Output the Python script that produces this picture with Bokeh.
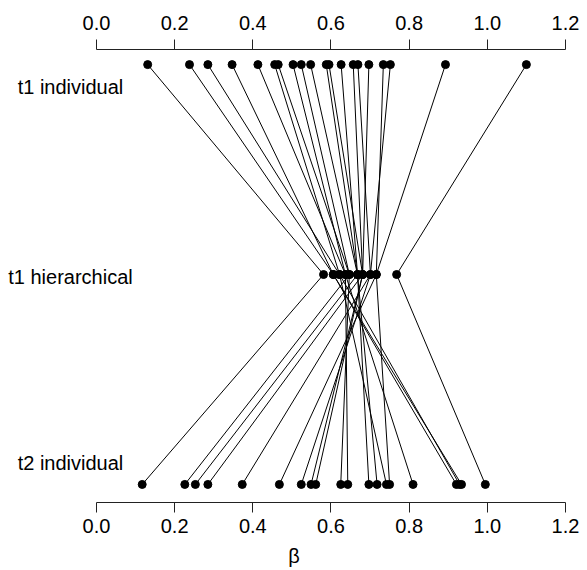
from bokeh.plotting import figure
from bokeh.models import LinearAxis, FixedTicker, Range1d, ColumnDataSource, NumeralTickFormatter
from bokeh.core.properties import value
from bokeh.embed import file_html
from bokeh.resources import INLINE

# ---- data ----
t1_individual = [0.131, 0.238, 0.285, 0.347, 0.413, 0.456, 0.465, 0.503, 0.524, 0.548,
                 0.588, 0.595, 0.626, 0.657, 0.669, 0.697, 0.734, 0.752, 0.893, 1.100]
t1_hierarchical = [0.581, 0.606, 0.622, 0.606, 0.637, 0.622, 0.647, 0.637, 0.647, 0.668,
                   0.668, 0.681, 0.668, 0.681, 0.701, 0.681, 0.716, 0.701, 0.716, 0.768]
t2_individual = [0.117, 0.921, 0.929, 0.934, 0.810, 0.742, 0.226, 0.643, 0.625, 0.253,
                 0.697, 0.285, 0.718, 0.549, 0.373, 0.561, 0.468, 0.524, 0.750, 0.995]
row_labels = ["t1 individual", "t1 hierarchical", "t2 individual"]
x_ticks = [0.0, 0.2, 0.4, 0.6, 0.8, 1.0, 1.2]

# ---- layout constants ----
ROW_T1, ROW_H, ROW_T2 = 3, 2, 1
LABEL_X = -0.0665
LABEL_Y = [2.895, 1.99, 1.10]
FONT = "Liberation Sans"

n = len(t1_individual)
src = ColumnDataSource(dict(
    t1=t1_individual, h=t1_hierarchical, t2=t2_individual,
    y1=[ROW_T1] * n, yh=[ROW_H] * n, y2=[ROW_T2] * n,
))

p = figure(width=587, height=570,
           x_range=Range1d(-0.2456, 1.2564), y_range=Range1d(0.914, 3.072),
           output_backend="svg", toolbar_location=None,
           x_axis_location=None, y_axis_location=None,
           min_border_left=0, min_border_right=0,
           min_border_top=49, min_border_bottom=68)
p.grid.visible = False
p.outline_line_color = None
p.background_fill_color = "white"

p.segment(x0="t1", y0="y1", x1="h", y1="yh", source=src, line_color="black", line_width=1)
p.segment(x0="h", y0="yh", x1="t2", y1="y2", source=src, line_color="black", line_width=1)

for col, ycol in (("t1", "y1"), ("h", "yh"), ("t2", "y2")):
    p.scatter(x=col, y=ycol, source=src, size=8, fill_color="black", line_color="black")

p.text(x=[LABEL_X] * 3, y=LABEL_Y, text=row_labels, text_align="center",
       text_baseline="middle", text_font=value(FONT), text_font_size="20px",
       text_color="black")

for loc in ("above", "below"):
    ax = LinearAxis(ticker=FixedTicker(ticks=x_ticks),
                    formatter=NumeralTickFormatter(format="0.0"))
    ax.bounds = (0, 1.2)
    ax.axis_line_color = "#222222"
    ax.major_tick_line_color = "#222222"
    ax.major_tick_out = 10
    ax.major_tick_in = 0
    ax.minor_tick_out = 0
    ax.minor_tick_in = 0
    ax.major_label_text_font = FONT
    ax.major_label_text_font_size = "20px"
    ax.major_label_text_color = "black"
    ax.major_label_standoff = 10 if loc == "above" else 6
    if loc == "below":
        ax.axis_label = "β"
        ax.axis_label_text_font = FONT
        ax.axis_label_text_font_size = "20px"
        ax.axis_label_text_font_style = "normal"
        ax.axis_label_text_color = "black"
        ax.axis_label_standoff = 9
    p.add_layout(ax, loc)

open("out.html", "w").write(file_html(p, INLINE))
